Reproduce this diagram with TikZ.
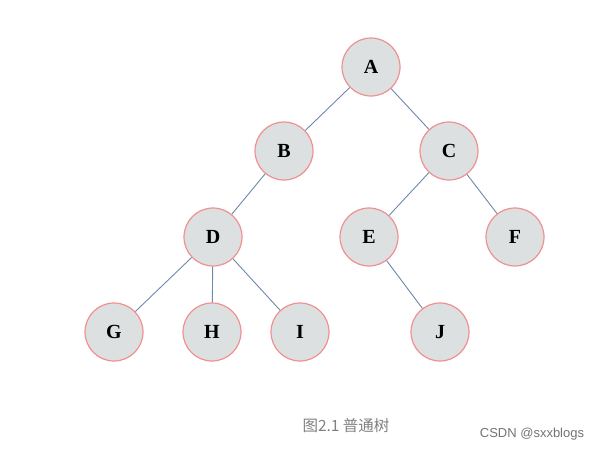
\documentclass[tikz,border=0pt]{standalone}
\usepackage{fontspec}
\setmainfont{Liberation Serif}
\newfontfamily\cjk{Noto Sans CJK SC}
\newfontfamily\wm{Liberation Sans}
\definecolor{nfill}{HTML}{DDE0E0}
\definecolor{ndraw}{HTML}{F09090}
\definecolor{edge}{HTML}{7088A8}
\begin{document}
\begin{tikzpicture}[x=1pt,y=-1pt,
  tnode/.style={circle,draw=ndraw,fill=nfill,line width=1.2pt,minimum size=58pt,inner sep=0pt,font=\fontsize{20}{20}\selectfont\bfseries},
  tedge/.style={draw=edge,line width=0.9pt}]
\useasboundingbox (0,0) rectangle (599,450);
\node[tnode] (A) at (371,67) {A};
\node[tnode] (B) at (284,151) {B};
\node[tnode] (C) at (449,151) {C};
\node[tnode] (D) at (213,237) {D};
\node[tnode] (E) at (369,237) {E};
\node[tnode] (F) at (515,237) {F};
\node[tnode] (G) at (114,332) {G};
\node[tnode] (H) at (212,332) {H};
\node[tnode] (I) at (300,332) {I};
\node[tnode] (J) at (440,332) {J};
\draw[tedge] (A) -- (B);
\draw[tedge] (A) -- (C);
\draw[tedge] (B) -- (D);
\draw[tedge] (C) -- (E);
\draw[tedge] (C) -- (F);
\draw[tedge] (D) -- (G);
\draw[tedge] (D) -- (H);
\draw[tedge] (D) -- (I);
\draw[tedge] (E) -- (J);
\node[text=black!50,font=\cjk\fontsize{15.5}{15.5}\selectfont] (cap) at (346,426) {图2.1 普通树};
\node[text=black!55,font=\wm\fontsize{13}{13}\selectfont] (wm) at (532,434) {CSDN @sxxblogs};
\end{tikzpicture}
\end{document}
